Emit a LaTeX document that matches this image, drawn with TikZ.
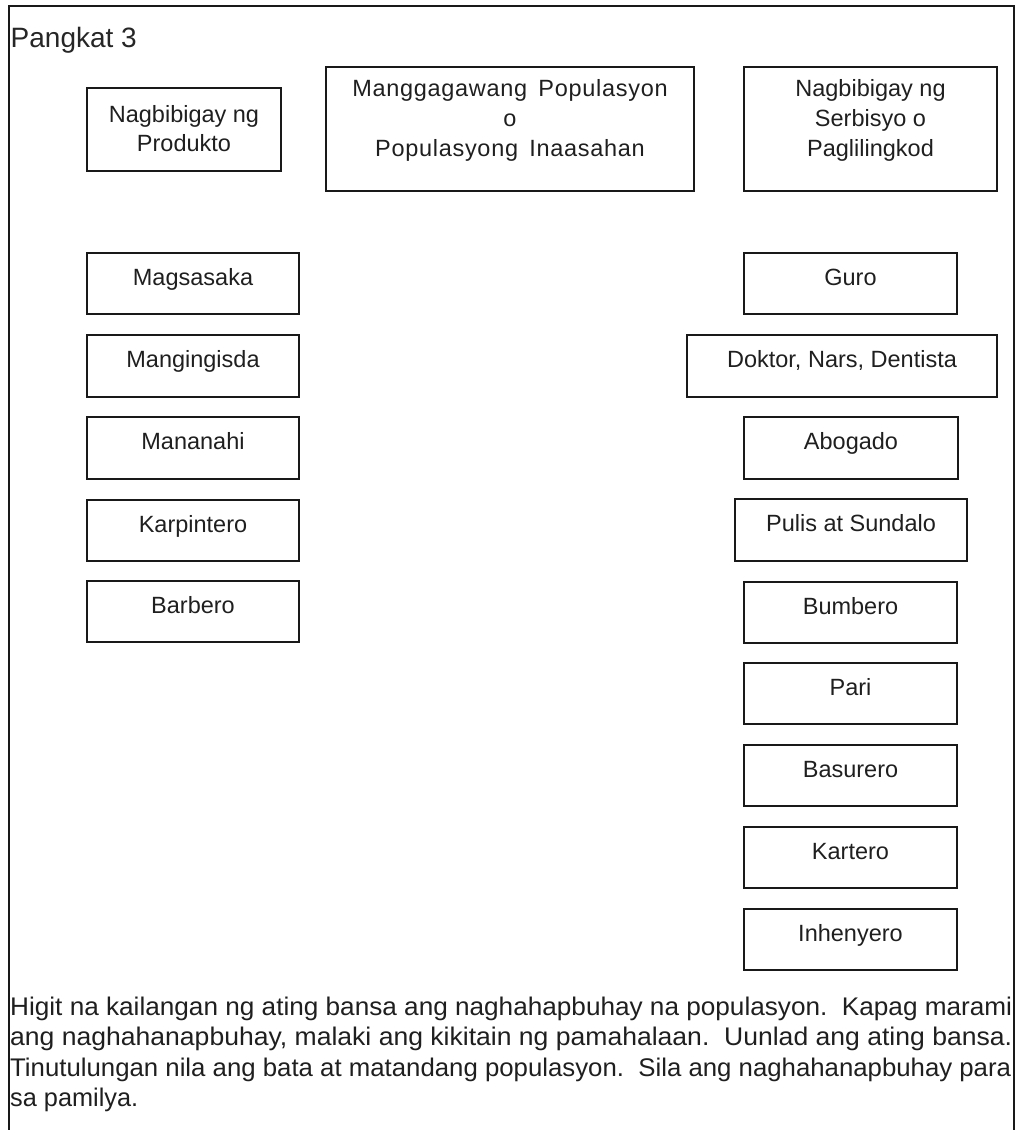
\documentclass[tikz,border=0pt]{standalone}
\usepackage{fontspec}
\setmainfont{Liberation Sans}
\newfontfamily\spacedfont[LetterSpace=3]{Liberation Sans}
\newcommand\boxfont{\fontsize{23.5pt}{28pt}\selectfont}
\newcommand\bodyfont{\fontsize{25.5pt}{30pt}\selectfont}
\newcommand\mybox[6]{%
  \node[box, minimum width={(#4-#2)*1pt}, minimum height={(#5-#3)*1pt}] (#1) at ({(#2+#4)/2},{(#3+#5)/2}) {};
  \node[lbl] (#1-t) at ([yshift=-32.5pt]#1.north) {#6};
}
\tikzset{
  box/.style={draw=black!90, line width=1.2pt, inner sep=0pt, outer sep=0pt},
  lbl/.style={font=\boxfont, text=black!88, anchor=base, inner sep=0pt},
  frame/.style={draw=black!90, line width=1.3pt},
  body/.style={font=\bodyfont, text=black!88, anchor=base west, inner sep=0pt},
}
\begin{document}
\begin{tikzpicture}[x=1pt, y=-1pt]
\useasboundingbox (0,0) rectangle (1018,1130);

% frame (open at the bottom)
\coordinate (fbl) at (9,1131);
\coordinate (ftl) at (9,6);
\coordinate (ftr) at (1014,6);
\coordinate (fbr) at (1014,1131);
\draw[frame] (fbl) -- (ftl) -- (ftr) -- (fbr);

\node[font=\fontsize{28pt}{32pt}\selectfont, text=black!85, anchor=base west, inner sep=0pt] (title) at (10.5,47.5) {Pangkat 3};

% header boxes
\node[box, minimum width=194pt, minimum height=83pt] (prod) at (184,129.5) {};
\node[lbl] (prod-a) at (184,122.7) {Nagbibigay ng};
\node[lbl] (prod-b) at (184,151.7) {Produkto};

\node[box, minimum width=368pt, minimum height=124pt] (mang) at (510,129) {};
\node[lbl, font=\boxfont\spacedfont] (mang-a) at (510,96.7) {Manggagawang\hspace{4pt} Populasyon};
\node[lbl, font=\boxfont\spacedfont] (mang-b) at (510,126.5) {o};
\node[lbl, font=\boxfont\spacedfont] (mang-c) at (510,156) {Populasyong\hspace{4pt} Inaasahan};

\node[box, minimum width=253pt, minimum height=124pt] (serb) at (870.5,129) {};
\node[lbl] (serb-a) at (870.5,96.7) {Nagbibigay ng};
\node[lbl] (serb-b) at (870.5,126.7) {Serbisyo o};
\node[lbl] (serb-c) at (870.5,156) {Paglilingkod};

% left column
\mybox{magsasaka}{87}{253}{299}{314}{Magsasaka}
\mybox{mangingisda}{87}{335}{299}{397}{Mangingisda}
\mybox{mananahi}{87}{417}{299}{479}{Mananahi}
\mybox{karpintero}{87}{500}{299}{561}{Karpintero}
\mybox{barbero}{87}{581}{299}{642}{Barbero}

% right column
\mybox{guro}{744}{253}{957}{314}{Guro}
\mybox{doktor}{687}{335}{997}{397}{Doktor, Nars, Dentista}
\mybox{abogado}{744}{417}{958}{479}{Abogado}
\mybox{pulis}{735}{499}{967}{561}{Pulis at Sundalo}
\mybox{bumbero}{744}{582}{957}{643}{Bumbero}
\mybox{pari}{744}{663}{957}{724}{Pari}
\mybox{basurero}{744}{745}{957}{806}{Basurero}
\mybox{kartero}{744}{827}{957}{888}{Kartero}
\mybox{inhenyero}{744}{909}{957}{970}{Inhenyero}

% paragraph
\node[body] (p1) at (10,1015) {\resizebox{1002pt}{\height}{Higit na kailangan ng ating bansa ang naghahapbuhay na populasyon.\ \ Kapag marami}};
\node[body] (p2) at (10,1045.5) {\resizebox{1002pt}{\height}{ang naghahanapbuhay, malaki ang kikitain ng pamahalaan.\ \ Uunlad ang ating bansa.}};
\node[body] (p3) at (10,1076) {\resizebox{1001pt}{\height}{Tinutulungan nila ang bata at matandang populasyon.\ \ Sila ang naghahanapbuhay para}};
\node[body] (p4) at (10,1106) {\resizebox{128pt}{\height}{sa pamilya.}};
\end{tikzpicture}
\end{document}
